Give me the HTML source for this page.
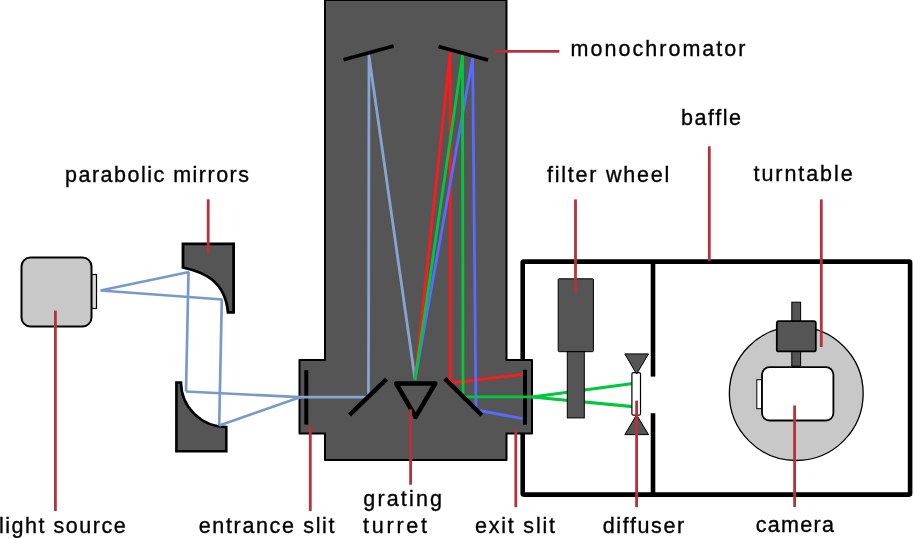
<!DOCTYPE html>
<html><head><meta charset="utf-8">
<style>
html,body{margin:0;padding:0;background:#fff;width:914px;height:538px;overflow:hidden}
svg{display:block;will-change:transform}
text{font-family:"Liberation Sans",sans-serif;font-size:21.5px;fill:#000;stroke:#000;stroke-width:0.35px}
</style></head><body>
<svg width="914" height="538" viewBox="0 0 914 538">
<!-- baffle box -->
<g fill="none" stroke="#000" stroke-width="4.6">
<rect x="522.7" y="261.6" width="387.4" height="233" rx="1"/>
<line x1="653" y1="261.6" x2="653" y2="376.6"/>
<line x1="653" y1="413.2" x2="653" y2="494.6"/>
</g>

<!-- light source -->
<rect x="91.5" y="274.5" width="5" height="34" fill="#dadada" stroke="#000" stroke-width="1.2"/>
<rect x="21.5" y="257.5" width="70" height="69" rx="9" fill="#c8c8c8" stroke="#000" stroke-width="2"/>

<!-- parabolic mirrors -->
<path d="M183,243.8 H233.6 V312.4 H228 C225,280 203,272 183,267.5 Z" fill="#555" stroke="#000" stroke-width="2.8"/>
<path d="M176.4,382.5 H181 A45.5,44.7 0 0 0 226.3,427 V451.3 H176.4 Z" fill="#555" stroke="#000" stroke-width="2.6"/>

<!-- monochromator -->
<path d="M325,0 H506.5 V360 H532 V433.5 H506.5 V460 H325 V433.5 H299.5 V360 H325 Z" fill="#555" stroke="#000" stroke-width="2" stroke-linejoin="round"/>

<g stroke="#000" stroke-width="4">
<line x1="306.3" y1="370.2" x2="306.3" y2="424.6"/>
<line x1="525" y1="369.7" x2="525" y2="424.8"/>
</g>
<!-- source rays -->
<g stroke="#779acb" stroke-width="2.7" fill="none" stroke-linejoin="round">
<polyline points="189,272 100.5,290.5 222.5,299.5" stroke-linejoin="miter"/>
<line x1="188.5" y1="272" x2="186" y2="391.5"/>
<line x1="221.8" y1="299.5" x2="219.2" y2="425.5"/>
<polyline points="186,391.5 300,397.2 219.2,425.5"/>
</g>

<!-- rays inside monochromator -->
<g stroke-width="2.8" fill="none" stroke-linejoin="round">
<polyline stroke="#86a5d3" points="299.5,397.2 368.5,397.2 369,56 415,379"/>
<polyline stroke="#ff1a1a" points="415,380 450.2,52.5 450.2,383 522.6,374.3"/>
<polyline stroke="#5a69ff" points="415,380 472.6,58.4 476,410 522.6,418.6"/>
<polyline stroke="#00c83c" points="415,380 462.5,56 463,396.8 535,396.8"/>
</g>

<!-- monochromator mirrors -->
<g stroke="#000" stroke-width="4">
<line x1="343.5" y1="59.8" x2="393.6" y2="45.9" stroke-width="3.6"/>
<line x1="438.5" y1="46.4" x2="488" y2="60" stroke-width="3.6"/>
<line x1="349.6" y1="414.8" x2="386.6" y2="379.1" stroke-width="4.4"/>
<line x1="444.8" y1="378.6" x2="481.8" y2="415.2" stroke-width="4.4"/>
</g>
<path d="M396.2,383.5 H435.2 L415.6,416.8 Z" fill="#555" stroke="#000" stroke-width="4.6" stroke-linejoin="round"/>

<!-- green beams to diffuser -->
<polyline stroke="#00c83c" stroke-width="3.2" fill="none" stroke-linejoin="round" points="633,383.5 532,397 633,406.7"/>

<!-- filter wheel -->
<rect x="558.2" y="278.8" width="35.2" height="72.9" fill="#555" stroke="#000" stroke-width="1" rx="1"/>
<rect x="567.3" y="351.7" width="17" height="66.2" fill="#555" stroke="#000" stroke-width="1"/>

<!-- diffuser -->
<rect x="631.9" y="372.6" width="8.6" height="42.6" rx="1.5" fill="#fff" stroke="#000" stroke-width="1.2"/>
<path d="M624.8,353.9 H648.5 L636.6,374 Z" fill="#555" stroke="#000" stroke-width="1"/>
<path d="M624.8,434.6 H648.5 L636.6,414.8 Z" fill="#555" stroke="#000" stroke-width="1"/>

<!-- turntable & camera -->
<circle cx="796.25" cy="393.6" r="66.9" fill="#c8c8c8" stroke="#000" stroke-width="1.3"/>
<rect x="791.8" y="302.2" width="8.8" height="64" fill="#555" stroke="#000" stroke-width="1"/>
<rect x="776.8" y="321.2" width="39" height="30.2" rx="2" fill="#555" stroke="#000" stroke-width="1.8"/>
<rect x="756.8" y="379.7" width="5" height="29" fill="#fff" stroke="#000" stroke-width="1"/>
<rect x="762" y="367.1" width="71.4" height="53.4" rx="7.5" fill="#fff" stroke="#000" stroke-width="1.8"/>

<!-- label lines -->
<g stroke="#b8313a" stroke-width="2.8" fill="none">
<line x1="208.2" y1="199.3" x2="208.2" y2="253.6"/>
<line x1="55.4" y1="310.6" x2="55.4" y2="511"/>
<line x1="310.3" y1="426" x2="310.3" y2="511"/>
<line x1="410.6" y1="409.3" x2="410.6" y2="484.8"/>
<line x1="515.8" y1="429.1" x2="515.8" y2="507.2"/>
<line x1="636.6" y1="400.6" x2="636.6" y2="507.2"/>
<line x1="794.6" y1="405.5" x2="794.6" y2="507"/>
<line x1="494.9" y1="51.3" x2="559.4" y2="51.3"/>
<line x1="575.5" y1="199.4" x2="575.5" y2="292"/>
<line x1="709.3" y1="146.3" x2="709.3" y2="261"/>
<line x1="821.3" y1="199.4" x2="821.3" y2="347"/>
</g>

<!-- labels -->
<text x="65" y="181.8" textLength="184" lengthAdjust="spacing">parabolic mirrors</text>
<text x="570.5" y="56.4" textLength="175" lengthAdjust="spacing">monochromator</text>
<text x="681" y="124.6" textLength="60" lengthAdjust="spacing">baffle</text>
<text x="547" y="181.5" textLength="122.3" lengthAdjust="spacing">filter wheel</text>
<text x="753.5" y="181.3" textLength="99.2" lengthAdjust="spacing">turntable</text>
<text x="-1" y="532.6" textLength="126.6" lengthAdjust="spacing">light source</text>
<text x="198.7" y="532.6" textLength="135.8" lengthAdjust="spacing">entrance slit</text>
<text x="363.3" y="505.9" textLength="78.7" lengthAdjust="spacing">grating</text>
<text x="363" y="532.6" textLength="64" lengthAdjust="spacing">turret</text>
<text x="475" y="533" textLength="80" lengthAdjust="spacing">exit slit</text>
<text x="602.7" y="533.3" textLength="81.5" lengthAdjust="spacing">diffuser</text>
<text x="755.7" y="532.4" textLength="78.3" lengthAdjust="spacing">camera</text>
</svg>
</body></html>
